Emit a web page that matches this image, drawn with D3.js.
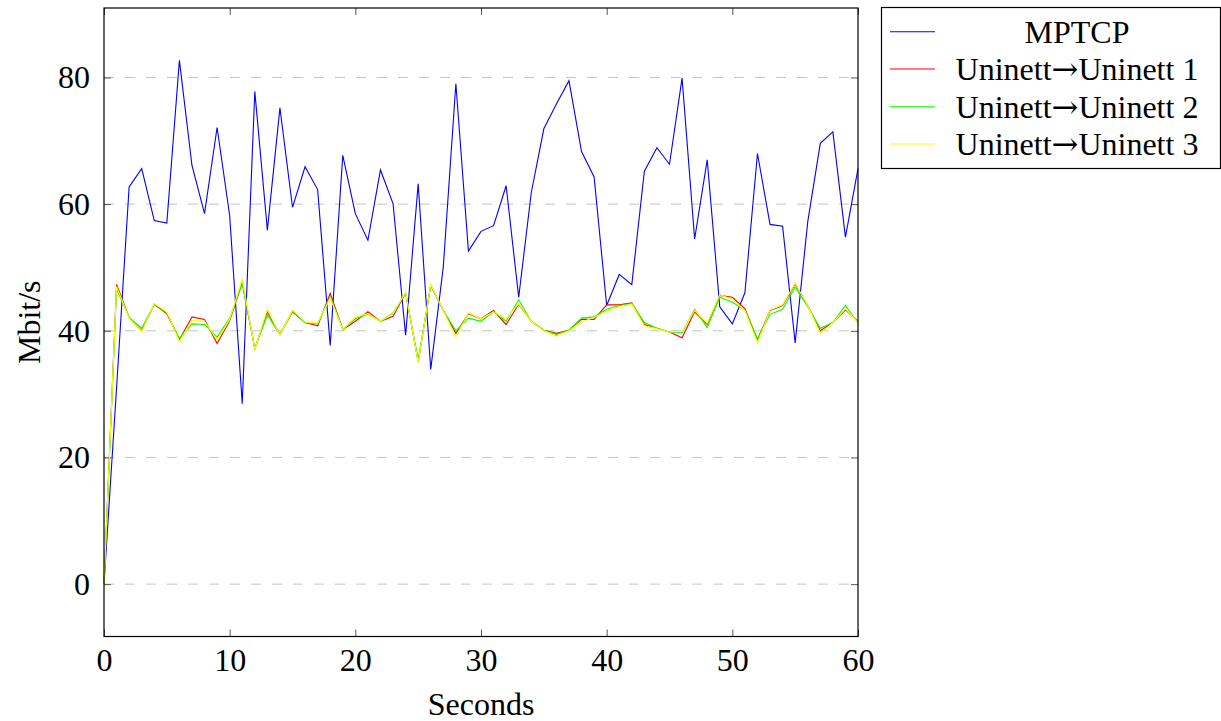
<!DOCTYPE html>
<html>
<head>
    <meta charset="utf-8">
    <title>MPTCP throughput</title>
    <script src="https://d3js.org/d3.v7.min.js"></script>
    <style>
        body { margin: 0; background: #fff; }
        text { font-family: 'Liberation Serif', 'Times New Roman', serif; fill: #000; }
    </style>
</head>
<body>
<script>
    // seconds on the x axis
    var seconds = d3.range(0, 61);

    var mptcp = [0, 31, 62.7, 65.6, 57.4, 57.0, 82.7, 66.1, 58.5, 72.1, 58.2, 28.5, 77.8, 55.9, 75.2, 59.5,
        65.9, 62.3, 37.7, 67.7, 58.5, 54.3, 65.4, 60.1, 39.3, 63.2, 33.9, 50.1, 79.0, 52.6, 55.7,
        56.6, 62.9, 45.3, 61.8, 71.9, 75.8, 79.5, 68.3, 64.3, 44.0, 48.9, 47.3, 65.2, 68.9, 66.3,
        79.9, 54.5, 67.0, 43.8, 41.1, 46.0, 68.0, 56.8, 56.5, 38.1, 57.2, 69.6, 71.4, 54.8, 65.6];

    var uninett1 = [0, 47.3, 42.1, 40.0, 44.2, 42.7, 38.6, 42.2, 41.8, 38.0, 41.6, 47.6, 37.2, 43.0, 39.4, 43.0,
        41.3, 40.8, 45.9, 40.2, 41.5, 43.0, 41.5, 42.3, 46.0, 35.1, 47.2, 43.2, 39.6, 42.7, 41.9,
        43.2, 41.0, 44.2, 41.5, 40.1, 39.6, 40.1, 41.8, 41.8, 44.1, 44.1, 44.4, 41.0, 40.4, 39.8,
        38.9, 43.0, 41.0, 45.6, 45.3, 43.5, 38.6, 43.2, 44.0, 47.4, 44.0, 40.0, 41.3, 43.3, 41.5];

    var uninett2 = [0, 46.6, 42.1, 40.4, 44.2, 42.8, 38.8, 41.1, 41.0, 39.0, 42.0, 47.5, 37.2, 42.5, 39.4, 43.1,
        41.3, 41.1, 45.4, 40.2, 41.9, 42.6, 41.5, 42.8, 46.0, 35.4, 47.2, 43.2, 40.0, 42.0, 41.5,
        43.0, 41.5, 44.9, 41.5, 40.1, 39.4, 40.1, 42.0, 42.2, 43.4, 44.0, 44.3, 41.3, 40.4, 39.8,
        39.7, 43.4, 40.5, 45.3, 44.5, 43.3, 38.7, 42.6, 43.4, 46.9, 43.8, 40.4, 41.3, 44.0, 41.2];

    var uninett3 = [0, 47.0, 42.0, 39.9, 44.3, 43.0, 38.3, 41.6, 41.5, 38.5, 41.8, 48.2, 37.1, 43.4, 39.3, 43.3,
        41.4, 41.2, 45.2, 40.2, 42.2, 42.7, 41.5, 42.7, 46.1, 35.0, 47.3, 43.2, 39.0, 42.8, 41.9,
        43.0, 41.9, 44.3, 41.5, 40.0, 39.2, 40.0, 41.4, 42.1, 43.1, 43.8, 44.2, 40.8, 40.3, 39.8,
        39.9, 43.2, 41.2, 45.7, 45.0, 43.2, 38.1, 43.3, 44.1, 47.5, 44.0, 39.6, 41.3, 43.5, 41.3];

    var seriesNames = ["MPTCP", "Uninett\u2192Uninett 1", "Uninett\u2192Uninett 2", "Uninett\u2192Uninett 3"];
    var seriesColors = ["#0000ff", "#ff0000", "#00ff00", "#ffff00"];
    var xTicks = [0, 10, 20, 30, 40, 50, 60];
    var yTicks = [0, 20, 40, 60, 80];

    var width = 1221,
        height = 721;
    var plotLeft = 104, plotRight = 858, plotTop = 8, plotBottom = 636.5;
    var fontSize = "32px";

    var svg = d3.select("body").append("svg")
        .attr("width", width)
        .attr("height", height);

    var x = d3.scaleLinear().domain([0, 60]).range([plotLeft, plotRight]);
    var y = d3.scaleLinear().domain([-8.27, 90.97]).range([plotBottom, plotTop]);

    // grid
    svg.append("g").selectAll("line")
        .data(yTicks)
        .enter().append("line")
        .attr("x1", plotLeft).attr("x2", plotRight)
        .attr("y1", d => y(d)).attr("y2", d => y(d))
        .attr("stroke", "#c4c4c4")
        .attr("stroke-width", 1)
        .attr("stroke-dasharray", "10,11");

    // axes with inner ticks
    var tickLen = 7;
    svg.append("g")
        .attr("transform", "translate(0," + plotBottom + ")")
        .call(d3.axisBottom(x).tickValues(xTicks).tickSizeInner(-tickLen).tickSizeOuter(0).tickPadding(12))
        .call(g => g.select(".domain").remove());
    svg.append("g")
        .attr("transform", "translate(0," + plotTop + ")")
        .call(d3.axisTop(x).tickValues(xTicks).tickSizeInner(-tickLen).tickSizeOuter(0).tickFormat(""))
        .call(g => g.select(".domain").remove());
    svg.append("g")
        .attr("transform", "translate(" + plotLeft + ",0)")
        .call(d3.axisLeft(y).tickValues(yTicks).tickSizeInner(-tickLen).tickSizeOuter(0).tickPadding(14))
        .call(g => g.select(".domain").remove());
    svg.append("g")
        .attr("transform", "translate(" + plotRight + ",0)")
        .call(d3.axisRight(y).tickValues(yTicks).tickSizeInner(-tickLen).tickSizeOuter(0).tickFormat(""))
        .call(g => g.select(".domain").remove());

    svg.selectAll(".tick line").attr("stroke", "#555");
    svg.selectAll(".tick text")
        .style("font-family", "'Liberation Serif', serif")
        .style("font-size", fontSize)
        .attr("fill", "#000");

    // series lines
    var allSeries = [mptcp, uninett1, uninett2, uninett3];
    var line = d3.line()
        .x((d, i) => x(seconds[i]))
        .y(d => y(d));

    svg.append("g").selectAll("path")
        .data(allSeries)
        .enter().append("path")
        .attr("d", line)
        .attr("fill", "none")
        .attr("stroke", (d, i) => seriesColors[i])
        .attr("stroke-width", 1.1)
        .attr("stroke-linejoin", "miter");

    // frame
    svg.append("rect")
        .attr("x", plotLeft).attr("y", plotTop)
        .attr("width", plotRight - plotLeft).attr("height", plotBottom - plotTop)
        .attr("fill", "none")
        .attr("stroke", "#000")
        .attr("stroke-width", 1.2);

    // axis labels
    svg.append("text")
        .attr("x", (plotLeft + plotRight) / 2)
        .attr("y", 715)
        .attr("text-anchor", "middle")
        .style("font-size", fontSize)
        .text("Seconds");

    svg.append("text")
        .attr("transform", "translate(40," + ((plotTop + plotBottom) / 2) + ") rotate(-90)")
        .attr("text-anchor", "middle")
        .style("font-size", fontSize)
        .text("Mbit/s");

    // legend
    var legend = svg.append("g");
    legend.append("rect")
        .attr("x", 881.5).attr("y", 7.5)
        .attr("width", 339).attr("height", 161)
        .attr("fill", "#fff")
        .attr("stroke", "#000")
        .attr("stroke-width", 1.2);

    var rowY = [31.7, 69, 106.7, 144];
    var items = legend.selectAll(".item")
        .data(seriesNames)
        .enter().append("g")
        .attr("class", "item")
        .attr("transform", (d, i) => "translate(0," + rowY[i] + ")");
    items.append("line")
        .attr("x1", 890).attr("x2", 935)
        .attr("y1", 0).attr("y2", 0)
        .attr("stroke", (d, i) => seriesColors[i])
        .attr("stroke-width", 1.1);
    var labels = items.append("text")
        .attr("x", 1077)
        .attr("y", 11)
        .attr("text-anchor", "middle")
        .style("font-size", fontSize);
    // split at the arrow so it can use a font with a wider arrow glyph
    labels.each(function (d) {
        var parts = d.split("\u2192");
        var t = d3.select(this);
        t.append("tspan").text(parts[0]);
        if (parts.length > 1) {
            t.append("tspan").style("font-family", "'DejaVu Serif', serif").text("\u2192");
            t.append("tspan").text(parts[1]);
        }
    });
</script>
</body>
</html>
